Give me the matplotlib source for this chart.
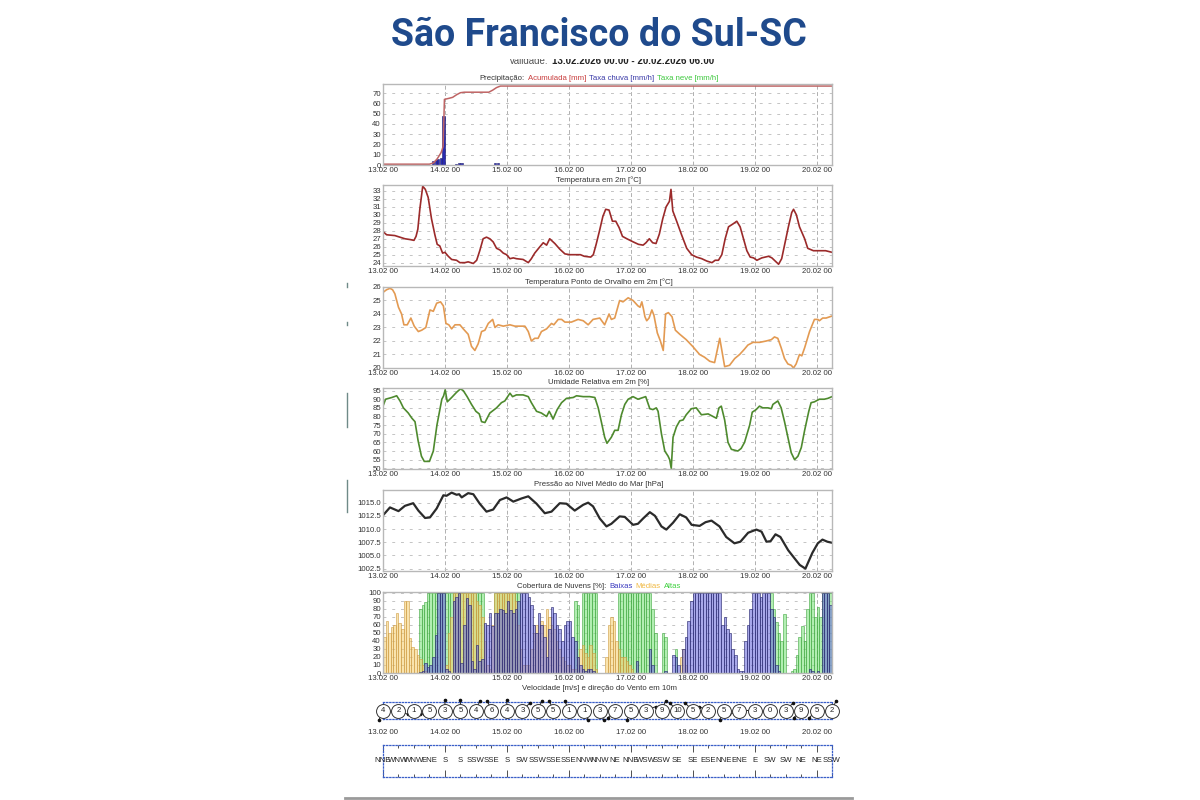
"""
Meteogram for Sao Francisco do Sul-SC (13.02.2026 - 20.02.2026)
"""

import matplotlib
matplotlib.use('Agg')
import matplotlib.pyplot as plt
import matplotlib.transforms as mtransforms
from matplotlib import font_manager
from matplotlib.offsetbox import TextArea, HPacker, AnnotationBbox
from matplotlib.patches import Rectangle
from matplotlib.lines import Line2D
import numpy as np

# ---------------------------------------------------------------- data
day_hours = [0, 24, 48, 72, 96, 120, 144, 168]
day_labels = ['13.02 00', '14.02 00', '15.02 00', '16.02 00',
              '17.02 00', '18.02 00', '19.02 00', '20.02 00']

# precipitation: accumulated (hour, mm) and rain rate bars (hour, mm/h)
precip_acc = [(0, 0.8), (18, 0.8), (19.5, 2), (21, 6), (22.5, 12), (23.3, 18),
              (23.8, 64), (25.5, 65), (27, 66), (28.5, 68.5), (30, 70.5),
              (31.5, 71), (41, 71), (42.5, 73), (44, 75.5), (45.5, 77), (174, 77)]
rain_hours = [19, 20, 21, 22, 23, 28, 29, 30, 43, 44]
rain_rate = [3.5, 5, 6, 7, 48, 1, 2, 1.5, 2, 1.5]

temp = [(0, 27.9), (1.4, 27.5), (4.6, 27.4), (8.5, 27.0), (10.5, 26.9), (12, 26.8),
        (12.8, 27.3), (13.5, 28.2), (14.3, 30.8), (15.4, 33.6), (16.4, 33.2),
        (17.5, 32.2), (18.8, 29.5), (20.1, 27.5), (21, 26.3), (22, 26.1), (23.1, 25.2),
        (24, 25.3), (25.3, 24.8), (26.6, 24.4), (28.5, 24.3), (29.8, 24.0), (31.7, 24.0),
        (33, 24.1), (35, 23.9), (36.3, 24.3), (37.5, 25.5), (38.8, 27.0), (40.1, 27.2),
        (41.4, 27.0), (42.7, 26.6), (44, 25.8), (45.3, 25.6), (46.6, 25.2), (47.9, 25.0),
        (49.2, 24.5), (50.5, 24.6), (51.7, 24.5), (54.3, 24.4), (56.3, 24.0), (57.5, 24.5),
        (58.8, 25.2), (60.8, 26.0), (62.1, 26.5), (63.4, 26.2), (64.6, 27.0), (66.6, 26.4),
        (68.5, 25.7), (70.5, 25.1), (72.4, 25.0), (76.5, 25.0), (78, 24.8), (80.5, 24.7),
        (81.5, 25.0), (82.6, 26.3), (83.9, 28.0), (85.2, 29.8), (86.3, 30.7), (87.6, 30.6),
        (88.9, 29.2), (90.2, 29.2), (91.5, 28.4), (92.8, 27.3), (94.5, 27.0), (97, 26.6),
        (99, 26.3), (100.8, 26.2), (101.9, 26.5), (103.2, 27.0), (104.5, 26.5),
        (105.8, 26.4), (107.1, 27.6), (108.4, 29.5), (109.7, 31.0), (111, 31.7),
        (111.6, 33.2), (112.3, 30.5), (113.8, 29.2), (115.7, 27.5), (117.7, 25.8),
        (119.6, 25.0), (121.5, 24.7), (123.5, 24.5), (125.5, 24.2), (127.5, 24.0),
        (128.7, 24.3), (130, 24.3), (131.3, 25.0), (132.6, 27.0), (133.9, 28.5),
        (135.8, 28.9), (137.1, 29.2), (138.4, 28.5), (139.7, 27.0), (141, 25.5),
        (142.3, 24.7), (143.6, 24.6), (144.9, 24.3), (146.8, 24.6), (149.4, 24.8),
        (150.7, 24.6), (152, 24.2), (153.3, 23.8), (154.5, 24.5), (155.8, 26.5),
        (157.1, 28.5), (158.4, 30.3), (159.1, 30.7), (160.2, 30.0), (161.4, 28.5),
        (163.4, 27.0), (164.6, 25.8), (166.8, 25.5), (169, 25.5), (171.5, 25.5), (174, 25.3)]

dewpoint = [(0, 25.6), (1.4, 25.8), (2.7, 25.9), (3.7, 25.8), (4.6, 25.5), (6, 24.5),
            (7.2, 24.0), (8.1, 23.2), (9.4, 23.2), (10.8, 23.7), (12.1, 23.1), (13.7, 22.7),
            (15, 22.8), (16.6, 23.0), (18.2, 24.3), (19.5, 24.2), (20.8, 24.8), (22.3, 24.9),
            (23.4, 24.6), (24.4, 23.3), (25.5, 23.2), (26.6, 22.9), (27.9, 23.2), (29.8, 23.2),
            (31.1, 22.9), (33, 22.5), (34.3, 21.6), (35.6, 21.3), (36.9, 21.8), (38.2, 22.7),
            (39.5, 22.8), (40.8, 23.3), (42.5, 23.6), (43.4, 23.0), (44.6, 23.2), (46.6, 23.1),
            (49.2, 23.2), (51.1, 23.1), (55, 23.1), (56.3, 22.7), (57.5, 22.0), (58.8, 22.2),
            (60.1, 22.2), (61.4, 22.7), (63.4, 22.9), (65.3, 23.3), (66.2, 23.2), (67.9, 23.6),
            (69.2, 23.6), (70.5, 23.4), (73, 23.4), (75.6, 23.6), (77.6, 23.5), (79.5, 23.2),
            (81.4, 23.6), (84, 23.7), (85.9, 23.2), (87.6, 24.0), (88.5, 23.6), (89.8, 23.7),
            (91.7, 25.0), (93, 24.9), (95, 25.2), (96.9, 25.0), (98.8, 24.6), (99.6, 24.5),
            (100.3, 24.9), (100.9, 24.4), (101.5, 23.8), (102.2, 23.5), (103.1, 23.7),
            (104.2, 24.3), (105, 23.9), (106.3, 22.6), (107.5, 22.0), (108.6, 21.3),
            (109.5, 24.0), (110.6, 24.1), (112, 23.8), (113.3, 22.8), (115, 22.5),
            (117.5, 22.1), (120, 21.6), (122.7, 21.0), (124.6, 20.8), (126.6, 20.5),
            (128.5, 20.4), (130.5, 22.2), (132.4, 20.1), (134.3, 20.2), (136.3, 20.7),
            (138.2, 21.0), (140.1, 21.4), (141.4, 21.7), (143.4, 21.9), (146, 21.9),
            (148.5, 22.0), (150.5, 22.1), (151.7, 22.3), (153, 22.2), (154.3, 21.5),
            (155.6, 20.7), (156.9, 20.3), (158.2, 20.2), (159.1, 20.0), (160.1, 20.3),
            (161.4, 21.0), (162.3, 20.9), (163.4, 21.5), (165.3, 22.7), (167.2, 23.6),
            (168.5, 23.6), (169.1, 23.5), (170.4, 23.7), (171.7, 23.7), (174, 23.85)]

humidity = [(0, 86), (1, 90), (3.4, 91), (5.3, 92), (6.6, 89), (7.9, 85), (9.8, 82),
            (11.2, 79), (12.4, 77), (13.6, 66), (14.9, 57), (16, 54), (18, 54), (19.5, 60),
            (20.9, 75), (22.8, 90), (23.5, 92), (24.1, 95.5), (24.9, 88.5), (26.6, 91),
            (28.5, 94), (30, 96), (31.1, 95), (32.6, 91.5), (34.3, 87), (36, 83), (37.3, 81.5),
            (38.2, 77), (39.5, 76.5), (41.4, 82), (44, 85), (45.9, 88), (47.2, 89),
            (49.2, 93.5), (50.2, 91.5), (51.7, 92.5), (54.3, 92.5), (56.3, 91.5), (57.5, 88),
            (59.5, 83), (61.4, 82), (63.4, 80), (64.4, 83), (65.3, 80.5), (65.9, 78.5),
            (67.5, 84), (69.2, 88), (71.1, 90.5), (73.7, 91), (75, 92), (77.6, 91.5),
            (80.1, 91.5), (82.1, 91), (83.4, 85), (84.6, 77), (85.9, 68), (86.8, 64.5),
            (88.5, 68), (89.8, 72), (91.1, 72), (92.4, 81), (93.7, 87), (95, 90), (96.9, 91.5),
            (98.8, 90), (100.8, 91), (101.8, 91.5), (103.4, 84.5), (104.6, 84), (105.9, 85),
            (106.6, 83), (107.9, 70), (109.2, 60), (110.5, 57), (111.1, 55), (111.7, 50),
            (112.4, 68), (113.7, 74), (115, 77.5), (116.3, 78), (117.5, 81), (119.5, 84.5),
            (121.4, 85), (123.4, 81), (126, 81.5), (127.9, 80), (129.2, 79), (130.2, 85),
            (131.1, 86), (132.4, 78), (133.7, 65), (135, 61), (137.5, 60), (138.8, 61.5),
            (140.1, 65), (142.1, 75), (143.1, 82.5), (144.6, 84), (145.9, 86), (147.2, 85),
            (149.2, 85), (150.5, 84.5), (151.1, 87), (153, 89), (154.3, 85), (155.6, 77),
            (156.9, 68), (158.2, 59), (159.5, 55), (160.8, 57), (162.1, 62), (163.4, 72),
            (165, 83), (165.9, 88), (167.2, 88.5), (169.1, 90), (171, 90), (172.4, 90.5),
            (174, 91.5)]

pressure = [(0, 1012.6), (2.7, 1014.1), (6, 1013.4), (8.5, 1014.4), (11.7, 1014.9),
            (13.7, 1013.5), (16.3, 1012.1), (18.2, 1012.2), (20.8, 1013.9), (23.4, 1016.4),
            (24.6, 1016.3), (26.6, 1016.9), (28.5, 1016.5), (29.5, 1016.6), (30.5, 1016.0),
            (33, 1016.8), (35, 1016.6), (37.5, 1014.8), (40.1, 1013.3), (42.7, 1013.7),
            (45.3, 1015.5), (47.9, 1016.0), (50.5, 1015.2), (53.7, 1015.8), (56.3, 1016.2),
            (59.5, 1014.8), (62.7, 1013.0), (65.3, 1013.3), (68.5, 1014.9), (71.1, 1014.8),
            (74.3, 1013.5), (77.6, 1014.6), (79.5, 1015.0), (81.4, 1014.3), (84, 1012.0),
            (86.6, 1010.5), (88.5, 1011.0), (91.7, 1012.4), (93.7, 1012.3), (96.9, 1010.8),
            (98.8, 1011.0), (100.8, 1012.0), (103.4, 1013.2), (105.4, 1012.5),
            (107.9, 1010.5), (109.8, 1009.9), (112.4, 1011.2), (115, 1012.8),
            (117.5, 1012.2), (119.6, 1010.8), (122.7, 1010.6), (125, 1011.3),
            (127.3, 1011.6), (130.4, 1010.5), (133, 1008.5), (136.2, 1007.3),
            (138.5, 1007.6), (141.5, 1009.3), (144.7, 1009.9), (146.7, 1009.5),
            (148.6, 1007.6), (150.2, 1007.7), (152.1, 1009.0), (154, 1008.5), (157, 1006.0),
            (159.4, 1004.5), (161.5, 1003.2), (163.7, 1002.5), (166.4, 1005.5),
            (168.5, 1007.3), (170.3, 1008.0), (172.2, 1007.6), (174, 1007.4)]

# cloud cover [%], hourly from 13.02 00 (one row per day)
cloud_low = [
    0, 0, 0, 0, 0, 0, 0, 0, 0, 0, 0, 0, 0, 0, 1, 3, 13, 7, 10, 20, 48, 100, 100, 100,
    5, 2, 0, 90, 95, 100, 12, 60, 93, 85, 15, 5, 35, 15, 18, 62, 60, 75, 58, 75, 75, 80, 78, 75,
    90, 78, 75, 80, 90, 100, 100, 100, 95, 85, 60, 50, 75, 60, 45, 20, 55, 82, 75, 60, 55, 40, 60, 65,
    65, 45, 40, 20, 10, 5, 2, 5, 5, 3, 0, 0, 0, 0, 0, 0, 0, 0, 0, 0, 0, 0, 0, 0,
    0, 0, 15, 0, 0, 0, 0, 30, 10, 0, 0, 0, 0, 2, 0, 0, 23, 20, 10, 0, 30, 45, 65, 90,
    100, 100, 100, 100, 100, 100, 100, 100, 100, 100, 100, 60, 70, 55, 50, 30, 22, 5, 3, 2, 40, 60, 80, 100,
    100, 100, 95, 100, 100, 100, 80, 70, 10, 2, 0, 0, 0, 0, 0, 0, 0, 0, 0, 0, 0, 5, 2, 0,
    2, 0, 100, 100, 100, 85]
cloud_mid = [
    45, 65, 50, 57, 60, 75, 62, 55, 90, 90, 44, 32, 30, 22, 18, 10, 3, 0, 0, 0, 0, 0, 0, 0,
    10, 50, 70, 100, 100, 100, 100, 100, 100, 100, 100, 100, 90, 85, 70, 40, 10, 5, 60, 100, 100, 100, 100, 100,
    100, 100, 100, 90, 60, 30, 10, 10, 10, 30, 50, 60, 50, 65, 60, 80, 70, 60, 55, 40, 30, 20, 15, 10,
    10, 5, 5, 20, 30, 35, 25, 20, 35, 25, 5, 0, 0, 0, 20, 60, 70, 65, 40, 30, 20, 20, 15, 10,
    5, 0, 0, 0, 0, 0, 0, 0, 0, 0, 0, 0, 0, 0, 0, 0, 0, 0, 0, 20, 30, 10, 0, 0,
    0, 0, 0, 0, 0, 0, 0, 0, 0, 0, 0, 0, 0, 0, 0, 0, 0, 0, 0, 0, 0, 0, 0, 0,
    0, 0, 0, 0, 0, 0, 0, 0, 0, 0, 0, 0, 0, 0, 0, 0, 0, 0, 0, 0, 0, 0, 0, 0,
    0, 0, 0, 0, 0, 0]
cloud_high = [
    0, 0, 0, 0, 0, 0, 0, 0, 0, 0, 0, 0, 0, 0, 80, 85, 88, 100, 100, 100, 100, 100, 100, 100,
    100, 100, 100, 100, 100, 100, 100, 100, 100, 100, 100, 100, 100, 100, 100, 0, 0, 0, 0, 100, 100, 100, 100, 100,
    100, 100, 100, 100, 100, 0, 0, 0, 0, 0, 0, 0, 0, 0, 0, 0, 0, 0, 0, 0, 0, 0, 0, 0,
    0, 0, 90, 85, 0, 100, 100, 100, 100, 100, 100, 0, 0, 0, 0, 0, 0, 0, 0, 100, 100, 100, 100, 100,
    100, 100, 100, 100, 100, 100, 100, 100, 80, 50, 0, 0, 50, 45, 0, 0, 0, 30, 0, 0, 0, 0, 0, 0,
    0, 0, 0, 0, 0, 0, 0, 0, 0, 0, 0, 0, 0, 0, 0, 0, 0, 0, 0, 0, 0, 0, 0, 0,
    0, 0, 0, 0, 0, 0, 100, 80, 63, 50, 40, 73, 0, 0, 2, 5, 22, 45, 58, 40, 80, 100, 100, 70,
    82, 70, 100, 100, 100, 100]

# wind every 6 hours from 13.02 00
wind_speed = [4, 2, 1, 5, 3, 5, 4, 6, 4, 3, 5, 5, 1, 1, 3, 7, 5, 3, 9, 10, 5, 2, 5, 7, 3, 0, 3, 9, 5, 2]
wind_dir = ['NNE', 'WNW', 'WNW', 'ENE', 'S', 'S', 'SSW', 'SSE', 'S', 'SW', 'SSW', 'SSE',
            'SSE', 'NNW', 'NNW', 'NE', 'NNE', 'WSW', 'SSW', 'SE', 'SE', 'ESE', 'NNE', 'ENE',
            'E', 'SW', 'SW', 'NE', 'NE', 'SSW']
compass = ['N', 'NNE', 'NE', 'ENE', 'E', 'ESE', 'SE', 'SSE',
           'S', 'SSW', 'SW', 'WSW', 'W', 'WNW', 'NW', 'NNW']

# ---------------------------------------------------------------- fonts
names = {f.name for f in font_manager.fontManager.ttflist}
small_font = 'Liberation Sans Narrow' if 'Liberation Sans Narrow' in names else 'Liberation Sans'
plt.rcParams['font.family'] = [small_font, 'DejaVu Sans']

W, H = 1200, 800
LEFT, RIGHT = 383, 832
TITLE_X = 599
FS = 5.6
TXT = '#333333'

fig = plt.figure(figsize=(12, 8), dpi=100)


def px_axes(top, height):
    """Axes placed in pixel coordinates (from the top-left corner)"""
    return fig.add_axes([LEFT / W, 1 - (top + height) / H, (RIGHT - LEFT) / W, height / H])


def panel_title(parts, top):
    """Centered (possibly multi coloured) title just above a panel"""
    boxes = [TextArea(s, textprops=dict(color=c, fontsize=FS)) for s, c in parts]
    pack = HPacker(children=boxes, align='baseline', pad=0, sep=2.2)
    ab = AnnotationBbox(pack, (TITLE_X / W, 1 - (top - 1.5) / H), xycoords='figure fraction',
                        box_alignment=(0.5, 0), frameon=False, pad=0)
    fig.add_artist(ab)


def style_panel(ax, ylim, yticks, fmt):
    ax.set_xlim(0, 174)
    ax.set_ylim(*ylim)
    ax.set_xticks(day_hours)
    ax.set_xticklabels(day_labels)
    ax.set_yticks(yticks)
    ax.set_yticklabels([fmt.format(v) for v in yticks])
    ax.tick_params(labelsize=FS, colors=TXT, length=0, pad=1.5)
    for s in ax.spines.values():
        s.set_color('#b8b8b8')
        s.set_linewidth(1.0)
    ax.set_axisbelow(True)
    ax.grid(True, axis='y', color='#c4c4c4', lw=0.7, linestyle=(0, (3, 6)))
    ax.grid(True, axis='x', color='#b0b0b0', lw=0.7, linestyle=(0, (4, 2.5)))


tops = [84, 185, 287, 388, 490, 592]
PH = 81

# ---------------------------------------------------------------- precipitation
ax = px_axes(tops[0], PH)
ah, av = zip(*precip_acc)
ax.bar(rain_hours, rain_rate, width=0.85, align='edge', color='#2a2ab0', edgecolor='#1a1a70', lw=0.4)
ax.plot(ah, av, color='#bf6464', lw=1.1)
style_panel(ax, (0, 79), list(range(0, 71, 10)), '{:.0f}')
panel_title([('Precipitação:', TXT), ('Acumulada [mm]', '#c83c3c'),
             ('Taxa chuva [mm/h]', '#3a3aa8'), ('Taxa neve [mm/h]', '#3cc83c')], tops[0])

# ---------------------------------------------------------------- temperature
ax = px_axes(tops[1], PH)
th, tv = zip(*temp)
ax.plot(th, tv, color='#9b2a2a', lw=1.2)
style_panel(ax, (23.58, 33.75), list(range(24, 34)), '{:.0f}')
panel_title([('Temperatura em 2m [°C]', TXT)], tops[1])

# ---------------------------------------------------------------- dew point
ax = px_axes(tops[2], PH)
dh, dv = zip(*dewpoint)
ax.plot(dh, dv, color='#e39a52', lw=1.2)
style_panel(ax, (20, 26), list(range(20, 27)), '{:.0f}')
panel_title([('Temperatura Ponto de Orvalho em 2m [°C]', TXT)], tops[2])

# ---------------------------------------------------------------- humidity
ax = px_axes(tops[3], PH)
hh, hv = zip(*humidity)
ax.plot(hh, hv, color='#4e8a2e', lw=1.2)
style_panel(ax, (49.6, 96.5), list(range(50, 96, 5)), '{:.0f}')
panel_title([('Umidade Relativa em 2m [%]', TXT)], tops[3])

# ---------------------------------------------------------------- pressure
ax = px_axes(tops[4], PH)
ph, pv = zip(*pressure)
ax.plot(ph, pv, color='#2b2b2b', lw=1.6)
style_panel(ax, (1002.05, 1017.4), [1002.5, 1005.0, 1007.5, 1010.0, 1012.5, 1015.0], '{:.1f}')
panel_title([('Pressão ao Nível Médio do Mar [hPa]', TXT)], tops[4])

# ---------------------------------------------------------------- clouds
ax = px_axes(tops[5], PH)
ch = np.arange(len(cloud_low))
ax.bar(ch, cloud_high, width=1, align='edge', color=(0.45, 0.88, 0.45, 0.55),
       edgecolor=(0.25, 0.65, 0.25, 0.8), lw=0.5)
ax.bar(ch, cloud_mid, width=1, align='edge', color=(0.96, 0.80, 0.42, 0.55),
       edgecolor=(0.80, 0.60, 0.25, 0.8), lw=0.5)
ax.bar(ch, cloud_low, width=1, align='edge', color=(0.38, 0.38, 0.85, 0.55),
       edgecolor=(0.18, 0.18, 0.45, 0.9), lw=0.5)
style_panel(ax, (0, 101), list(range(0, 101, 10)), '{:.0f}')
panel_title([('Cobertura de Nuvens [%]:', TXT), ('Baixas', '#3b3bc0'),
             ('Médias', '#f0b840'), ('Altas', '#3ed03e')], tops[5])

# ---------------------------------------------------------------- wind
wind_hours = list(range(0, 175, 6))
panel_title([('Velocidade [m/s] e direção do Vento em 10m', TXT)], 693)

axw = px_axes(702, 17)
axw.set_xlim(0, 174)
axw.set_ylim(-1, 1)
axw.set_xticks([])
axw.set_yticks([])
for s in axw.spines.values():
    s.set_color('#3a5fc8')
    s.set_linewidth(0.9)
    s.set_linestyle((0, (1, 1.5)))

L = 7.5  # points
for h, spd, d in zip(wind_hours, wind_speed, wind_dir):
    if spd > 0:
        to = np.deg2rad(compass.index(d) * 22.5 + 180)
        dx, dy = L * np.sin(to), L * np.cos(to)
        axw.annotate('', xy=(h, 0), xytext=(dx, dy), textcoords='offset points',
                     arrowprops=dict(arrowstyle='-', color='#222', lw=0.7, shrinkA=0, shrinkB=0),
                     annotation_clip=False)
        tr = mtransforms.offset_copy(axw.transData, fig=fig, x=dx, y=dy, units='points')
        axw.plot(h, 0, 'o', ms=1.6, color='#111', transform=tr, clip_on=False, zorder=3)
    axw.plot(h, 0, 'o', ms=10, mfc='white', mec='#333', mew=0.7, clip_on=False, zorder=4)
    axw.text(h, 0, str(spd), ha='center', va='center', fontsize=FS, color='#222', zorder=5)

for h, lab in zip(day_hours, day_labels):
    fig.text((LEFT + (RIGHT - LEFT) * h / 174) / W, 1 - 733 / H, lab,
             ha='center', va='center', fontsize=FS, color=TXT)

axd = px_axes(745, 32)
axd.set_xlim(0, 174)
axd.set_ylim(0, 1)
axd.set_yticks([])
axd.set_xticks(day_hours)
axd.set_xticks(wind_hours, minor=True)
axd.tick_params(which='both', direction='in', top=True, bottom=True,
                labelbottom=False, colors='#333', width=0.6)
axd.tick_params(which='major', length=5)
axd.tick_params(which='minor', length=2.5)
for s in axd.spines.values():
    s.set_color('#3a5fc8')
    s.set_linewidth(0.9)
    s.set_linestyle((0, (1, 1.5)))
for h, d in zip(wind_hours, wind_dir):
    axd.text(h, 0.5, d, ha='center', va='center', fontsize=FS, color='#222', clip_on=False)

# ---------------------------------------------------------------- header
fig.add_artist(Rectangle((0, 1 - 58.5 / H), 1, 58.5 / H, transform=fig.transFigure,
                         facecolor='white', edgecolor='none', zorder=5))
fig.text(TITLE_X / W, 1 - 35 / H, 'São Francisco do Sul-SC', ha='center', va='center',
         fontsize=27, fontweight='bold', family='Roboto', color='#1f4a8c', zorder=6)
fig.text(548 / W, 1 - 64.5 / H, 'Validade:', ha='right', va='baseline',
         fontsize=7, color='#555', zorder=2)
fig.text(552 / W, 1 - 64.5 / H, '13.02.2026 00:00 - 20.02.2026 06:00', ha='left',
         va='baseline', fontsize=7, fontweight='bold', color='#222', zorder=2)

# screenshot frame remnants
fig.add_artist(Line2D([345 / W, 852 / W], [1 - 798 / H] * 2, color='#9a9a9a', lw=2))
for y0, y1 in [(283, 287), (322, 325), (393, 427), (480, 512)]:
    fig.add_artist(Line2D([346.5 / W] * 2, [1 - y0 / H, 1 - y1 / H], color='#6f8a88', lw=1))

fig.savefig('out.png', dpi=100, facecolor='white')
